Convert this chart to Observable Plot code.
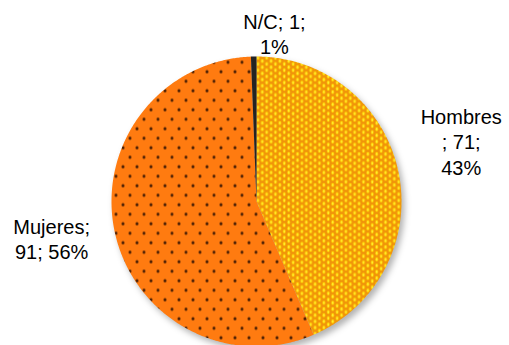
<!DOCTYPE html>
<html>
<head>
<meta charset="utf-8">
<script src="https://cdn.jsdelivr.net/npm/d3@7"></script>
<script src="https://cdn.jsdelivr.net/npm/@observablehq/plot@0.6"></script>
<style>
  html, body { margin: 0; padding: 0; background: #fff; }
  #chart svg { display: block; }
</style>
</head>
<body>
<div id="chart"></div>
<script>
// ---- data ----
const categories = ["Hombres", "Mujeres", "N/C"];
const values = [71, 91, 1];
const percentLabels = ["43%", "56%", "1%"];

// ---- layout / styles (not data) ----
const W = 509, H = 345;
const CX = 256, CY = 201, R = 145;      // pie centre in px, radius in px
const LABEL_R = 210;
const fills = {
  "Hombres": "url(#pat-hombres)",
  "Mujeres": "url(#pat-mujeres)",
  "N/C": "#232323"
};
const labelLayout = {
  "Hombres": {fmt: (c, v, p) => `${c}\n; ${v};\n${p}`, dx: -1, dy: -18},
  "Mujeres": {fmt: (c, v, p) => `${c};\n${v}; ${p}`, dx: 0, dy: -9},
  "N/C":     {fmt: (c, v, p) => `${c}; ${v};\n${p}`, dx: 22, dy: 42}
};

const table = categories.map((c, i) => ({category: c, value: values[i], pct: percentLabels[i]}));
const arcs = d3.pie().sort(null).value(d => d.value)(table);

// polygon points for each slice (centre + arc samples), y pointing up
const pts = [];
for (const a of arcs) {
  const c = a.data.category;
  pts.push({slice: c, x: 0, y: 0});
  const n = Math.max(2, Math.ceil((a.endAngle - a.startAngle) / (Math.PI / 360)));
  for (let k = 0; k <= n; k++) {
    const t = a.startAngle + (a.endAngle - a.startAngle) * k / n;
    pts.push({slice: c, x: R * Math.sin(t), y: R * Math.cos(t)});
  }
}
const labels = arcs.map(a => {
  const m = (a.startAngle + a.endAngle) / 2;
  const c = a.data.category;
  return {
    category: c,
    x: LABEL_R * Math.sin(m),
    y: LABEL_R * Math.cos(m),
    text: labelLayout[c].fmt(c, a.data.value, a.data.pct)
  };
});

const textMarks = labels.map(l => Plot.text([l], {
  x: "x", y: "y", text: "text",
  dx: labelLayout[l.category].dx, dy: labelLayout[l.category].dy,
  fontSize: 20, lineHeight: 1.27, fill: "#000",
  textAnchor: "middle", lineAnchor: "middle"
}));

const chart = Plot.plot({
  width: W, height: H,
  margin: 0,
  x: {domain: [-CX, W - CX], axis: null},
  y: {domain: [CY - H, CY], axis: null},
  color: {type: "identity"},
  style: {fontFamily: "Arial, 'Liberation Sans', sans-serif", background: "#fff"},
  marks: [
    Plot.line(pts, {x: "x", y: "y", z: "slice", fill: d => fills[d.slice], stroke: "none", curve: "linear"}),
    ...textMarks
  ]
});

// patterns
const svg = d3.select(chart);
const defs = svg.insert("defs", ":first-child");
const ph = defs.append("pattern").attr("id", "pat-hombres")
  .attr("patternUnits", "userSpaceOnUse").attr("width", 8.8).attr("height", 6.2);
ph.append("rect").attr("width", 8.8).attr("height", 6.2).attr("fill", "#F0940A");
for (const [x, y] of [[2.2, 1.55], [6.6, 4.65], [6.6, -1.55], [2.2, 7.75]]) {
  ph.append("ellipse").attr("cx", x).attr("cy", y).attr("rx", 1.5).attr("ry", 2.2).attr("fill", "#FFC800");
  ph.append("ellipse").attr("cx", x).attr("cy", y).attr("rx", 0.8).attr("ry", 1.4).attr("fill", "#FFEE30");
}
const pm = defs.append("pattern").attr("id", "pat-mujeres")
  .attr("patternUnits", "userSpaceOnUse").attr("width", 14).attr("height", 19);
pm.append("rect").attr("width", 14).attr("height", 19).attr("fill", "#FF7B10");
for (const [x, y] of [[3.5, 4.75], [10.5, 14.25]]) {
  pm.append("ellipse").attr("cx", x).attr("cy", y).attr("rx", 1.2).attr("ry", 1.8).attr("fill", "#2A0E02");
}
svg.select("g[aria-label='line']").style("filter", "drop-shadow(3px 4px 3px rgba(0,0,0,0.3))");

document.getElementById("chart").appendChild(chart);
</script>
</body>
</html>
